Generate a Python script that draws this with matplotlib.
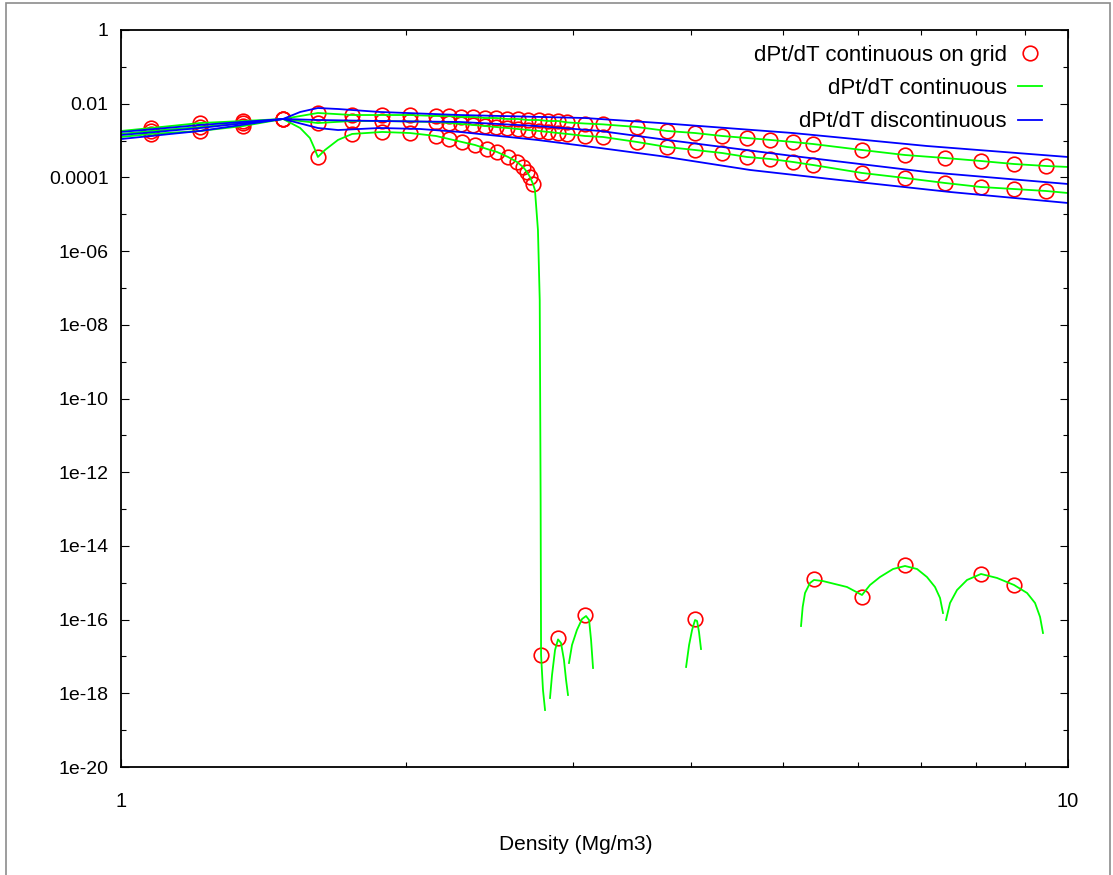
import numpy as np
import matplotlib
matplotlib.use("Agg")
import matplotlib.pyplot as plt
from matplotlib.lines import Line2D
from matplotlib.patches import Rectangle
from matplotlib.ticker import FixedLocator, FixedFormatter, NullFormatter

plt.rcParams['font.family'] = ['Liberation Sans', 'DejaVu Sans']

# ---------------- data ----------------
grid_d = [1.076, 1.212, 1.346, 1.483, 1.614, 1.754, 1.887, 2.019, 2.151, 2.221,
          2.288, 2.356, 2.423, 2.490, 2.558, 2.625, 2.692, 2.760, 2.827, 2.894,
          2.961, 3.090, 3.228, 3.507, 3.773, 4.038, 4.313, 4.583, 4.847, 5.124,
          5.379, 6.060, 6.728, 7.415, 8.090, 8.770, 9.479]

cont_a = [1.51e-3, 1.82e-3, 2.48e-3, 3.85e-3, 5.60e-3, 4.93e-3, 4.93e-3, 4.93e-3, 4.64e-3, 4.64e-3,
          4.36e-3, 4.36e-3, 4.09e-3, 4.09e-3, 3.85e-3, 3.85e-3, 3.61e-3, 3.61e-3, 3.39e-3, 3.39e-3,
          3.10e-3, 2.90e-3, 2.75e-3, 2.33e-3, 1.82e-3, 1.60e-3, 1.33e-3, 1.17e-3, 1.04e-3, 9.14e-4,
          8.06e-4, 5.54e-4, 4.05e-4, 3.36e-4, 2.79e-4, 2.31e-4, 2.04e-4]

cont_b = [1.82e-3, 2.33e-3, 2.99e-3, 3.85e-3, 2.99e-3, 3.39e-3, 3.39e-3, 3.29e-3, 3.19e-3, 2.99e-3,
          2.81e-3, 2.64e-3, 2.48e-3, 2.33e-3, 2.19e-3, 2.06e-3, 1.93e-3, 1.82e-3, 1.71e-3, 1.60e-3,
          1.51e-3, 1.33e-3, 1.25e-3, 9.14e-4, 6.68e-4, 5.54e-4, 4.59e-4, 3.58e-4, 3.16e-4, 2.62e-4,
          2.17e-4, 1.32e-4, 9.64e-5, 7.05e-5, 5.49e-5, 4.84e-5, 4.28e-5]

# line end values at density 1 and 10
a_start, a_end = 1.25e-3, 1.92e-4
b_start, b_end = 1.51e-3, 3.77e-5

# third temperature: grid points
c_pts_d = [1.076, 1.212, 1.346, 1.483, 1.614, 1.754, 1.887, 2.019, 2.151, 2.221,
           2.291, 2.365, 2.435, 2.495, 2.563, 2.619, 2.658, 2.684, 2.703, 2.723,
           2.777, 2.894, 3.090, 4.038, 5.392, 6.060, 6.728, 8.090, 8.770]
c_pts_v = [2.19e-3, 2.99e-3, 3.39e-3, 3.85e-3, 3.58e-4, 1.51e-3, 1.71e-3, 1.60e-3, 1.33e-3, 1.10e-3,
           9.14e-4, 7.57e-4, 5.90e-4, 4.89e-4, 3.58e-4, 2.62e-4, 1.92e-4, 1.40e-4, 1.03e-4, 6.62e-5,
           1.09e-17, 3.17e-17, 1.33e-16, 1.04e-16, 1.26e-15, 4.11e-16, 3.03e-15, 1.73e-15, 8.69e-16]

# third temperature: continuous curve (main part, down to the drop)
c_line_d = [1.0, 1.076, 1.212, 1.346, 1.483, 1.546, 1.583, 1.600, 1.614, 1.642,
            1.695, 1.754, 1.887, 2.019, 2.151, 2.221, 2.291, 2.365, 2.435, 2.495,
            2.563, 2.619, 2.658, 2.684, 2.703, 2.723, 2.736, 2.756, 2.768, 2.774,
            2.777, 2.790, 2.804]
c_line_v = [1.82e-3, 2.19e-3, 2.99e-3, 3.39e-3, 3.85e-3, 2.19e-3, 1.17e-3, 6.28e-4, 3.58e-4, 5.54e-4,
            1.04e-3, 1.51e-3, 1.71e-3, 1.60e-3, 1.33e-3, 1.10e-3, 9.14e-4, 7.57e-4, 5.90e-4, 4.89e-4,
            3.58e-4, 2.62e-4, 1.92e-4, 1.40e-4, 1.03e-4, 6.62e-5, 4.55e-5, 3.74e-6, 4.71e-8, 1.76e-13,
            1.09e-17, 1.23e-18, 3.52e-19]

# round-off noise arcs of the third curve
arc1_d = [2.838, 2.852, 2.873, 2.894, 2.915, 2.936, 2.951, 2.965]
arc1_v = [7.45e-19, 3.14e-18, 1.50e-17, 2.90e-17, 2.32e-17, 8.0e-18, 2.30e-18, 9.0e-19]
arc2_d = [2.972, 2.994, 3.030, 3.068, 3.098, 3.121, 3.136, 3.151]
arc2_v = [6.65e-18, 2.05e-17, 5.22e-17, 1.04e-16, 1.25e-16, 9.75e-17, 2.79e-17, 4.86e-18]
arc3_d = [3.951, 3.980, 4.009, 4.038, 4.058, 4.077, 4.097]
arc3_v = [5.18e-18, 2.05e-17, 5.22e-17, 9.75e-17, 9.16e-17, 4.61e-17, 1.59e-17]
arc4_d = [5.225, 5.246, 5.276, 5.340, 5.392, 5.512, 5.843, 6.060, 6.179, 6.331,
          6.535, 6.728, 6.928, 7.097, 7.237, 7.326, 7.379]
arc4_v = [6.70e-17, 2.20e-16, 5.27e-16, 9.84e-16, 1.19e-15, 1.11e-15, 7.67e-16, 4.65e-16, 8.69e-16, 1.43e-15,
          2.36e-15, 2.85e-15, 2.36e-15, 1.43e-15, 7.67e-16, 3.86e-16, 1.51e-16]
arc5_d = [7.433, 7.506, 7.635, 7.823, 8.093, 8.414, 8.770, 9.053, 9.230, 9.343, 9.410]
arc5_v = [9.75e-17, 2.82e-16, 6.35e-16, 1.19e-15, 1.73e-15, 1.35e-15, 8.69e-16, 5.27e-16, 2.82e-16, 1.18e-16, 4.33e-17]

# discontinuous curves
disc1_d = [1.0, 1.212, 1.483, 1.546, 1.614, 1.695, 1.877, 2.280, 3.090, 3.709, 5.124, 7.097, 10.0]
disc1_v = [1.10e-3, 1.82e-3, 3.85e-3, 5.96e-3, 7.64e-3, 7.18e-3, 5.96e-3, 4.93e-3, 4.09e-3, 2.99e-3, 1.60e-3, 7.11e-4, 3.58e-4]
disc2_d = [1.0, 1.212, 1.483, 1.614, 1.877, 2.280, 2.750, 3.205, 3.709, 5.124, 7.097, 10.0]
disc2_v = [1.41e-3, 2.19e-3, 3.85e-3, 3.61e-3, 3.39e-3, 3.19e-3, 2.48e-3, 1.82e-3, 1.10e-3, 3.81e-4, 1.40e-4, 6.62e-5]
disc3_d = [1.0, 1.212, 1.483, 1.614, 1.695, 1.877, 2.069, 2.280, 2.750, 3.205, 3.709, 4.617, 5.607, 7.506, 10.0]
disc3_v = [1.71e-3, 2.64e-3, 3.85e-3, 2.19e-3, 1.93e-3, 2.19e-3, 2.06e-3, 1.71e-3, 1.04e-3, 6.28e-4, 3.81e-4, 1.59e-4, 9.06e-5, 4.02e-5, 2.02e-5]

y_major = [1e0, 1e-2, 1e-4, 1e-6, 1e-8, 1e-10, 1e-12, 1e-14, 1e-16, 1e-18, 1e-20]
y_labels = ['1', '0.01', '0.0001', '1e-06', '1e-08', '1e-10', '1e-12', '1e-14', '1e-16', '1e-18', '1e-20']
y_minor = [1e-1, 1e-3, 1e-5, 1e-7, 1e-9, 1e-11, 1e-13, 1e-15, 1e-17, 1e-19]
x_major = [1, 10]
x_labels = ['1', '10']
x_minor = [2, 3, 4, 5, 6, 7, 8, 9]

labels = ['dPt/dT continuous on grid', 'dPt/dT continuous', 'dPt/dT discontinuous']
RED, GREEN, BLUE = '#ff0000', '#00ff00', '#0000ff'

# ---------------- figure ----------------
W, H = 1113, 875
fig = plt.figure(figsize=(W / 100, H / 100), dpi=100)
fig.patches.append(Rectangle((6 / W, -0.01), (1110 - 6) / W, 1.01 - 3 / H, transform=fig.transFigure,
                             fill=False, edgecolor='#8c8c8c', linewidth=1.2))
ax = fig.add_axes([121 / W, 1 - 767 / H, (1068 - 121) / W, (767 - 30) / H])
ax.set_xscale('log')
ax.set_yscale('log')

mk = dict(ls='none', marker='o', mfc='none', mec=RED, ms=10.5, mew=1.2)
ax.plot(grid_d, cont_a, **mk)
ax.plot(grid_d, cont_b, **mk)
ax.plot(c_pts_d, c_pts_v, **mk)

lg = dict(color=GREEN, lw=1.3)
ax.plot([1.0] + grid_d + [10.0], [a_start] + cont_a + [a_end], **lg)
ax.plot([1.0] + grid_d + [10.0], [b_start] + cont_b + [b_end], **lg)
ax.plot(c_line_d, c_line_v, **lg)
for dd, vv in [(arc1_d, arc1_v), (arc2_d, arc2_v), (arc3_d, arc3_v), (arc4_d, arc4_v), (arc5_d, arc5_v)]:
    ax.plot(dd, vv, **lg)

lb = dict(color=BLUE, lw=1.3)
ax.plot(disc1_d, disc1_v, **lb)
ax.plot(disc2_d, disc2_v, **lb)
ax.plot(disc3_d, disc3_v, **lb)

ax.set_xlim(1, 10)
ax.set_ylim(1e-20, 1)

ax.yaxis.set_major_locator(FixedLocator(y_major))
ax.yaxis.set_major_formatter(FixedFormatter(y_labels))
ax.yaxis.set_minor_locator(FixedLocator(y_minor))
ax.yaxis.set_minor_formatter(NullFormatter())
ax.xaxis.set_major_locator(FixedLocator(x_major))
ax.xaxis.set_major_formatter(FixedFormatter(x_labels))
ax.xaxis.set_minor_locator(FixedLocator(x_minor))
ax.xaxis.set_minor_formatter(NullFormatter())

ax.tick_params(which='both', direction='in', top=True, right=True, width=0.8, colors='black')
ax.tick_params(which='major', length=6)
ax.tick_params(which='minor', length=3.6)
ax.tick_params(axis='y', which='major', labelsize=14, pad=9)
ax.tick_params(axis='x', which='major', labelsize=14.5, pad=18)
for s in ax.spines.values():
    s.set_linewidth(1.3)

fig.text(576 / W, 1 - 845 / H, 'Density (Mg/m3)', ha='center', va='center', fontsize=15)

handles = [Line2D([], [], **mk),
           Line2D([], [], **lg),
           Line2D([], [], **lb)]
ax.legend(handles, labels, loc='upper right', frameon=False, markerfirst=False,
          fontsize=16, handlelength=1.1, handletextpad=0.5, labelspacing=0.55,
          bbox_to_anchor=(1 - 17 / 947, 1 - 6 / 737), borderaxespad=0)

fig.savefig('out.png', dpi=100)
